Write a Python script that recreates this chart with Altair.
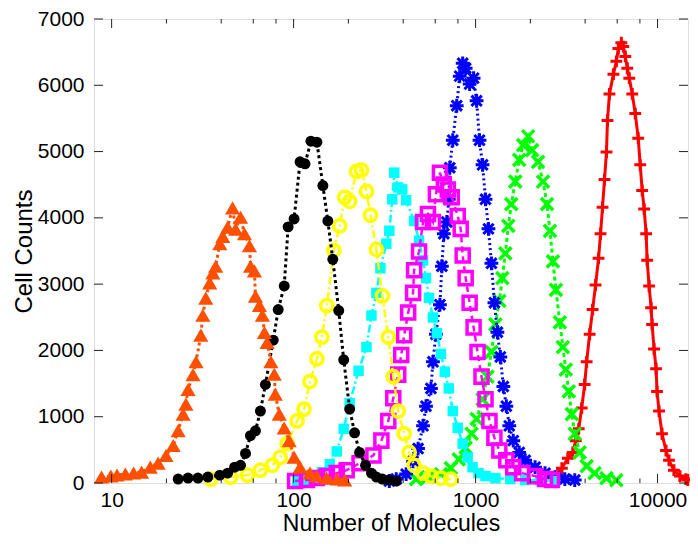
import altair as alt
import pandas as pd

# ---------------- data ----------------
orange_x = [8.8, 9.9, 10.7, 11.9, 13.2, 14.6, 16.3, 18.0, 19.9, 21.8, 23.2, 24.7, 25.6, 26.3, 28.0,
            29.1, 30.9, 31.7, 32.9, 34.6, 36.0, 37.3, 39.3, 40.8, 43.4, 46.2, 48.0, 51.1, 53.7, 57.2,
            58.0, 60.9, 61.7, 64.9, 67.4, 69.1, 71.5, 75.0, 78.3, 79.3, 83.4, 88.8, 94.5, 100.6, 108.5,
            123, 134, 152, 173, 191]
orange_y = [90, 105, 120, 135, 150, 165, 240, 300, 415, 565, 790, 1040, 1190, 1410, 1635,
            1830, 2230, 2530, 2790, 3020, 3170, 3270, 3610, 3720, 3860, 4150, 3830, 4010, 3760, 3580,
            3270, 3200, 2820, 2680, 2530, 2270, 2120, 1830, 1640, 1340, 1040, 830, 640, 390, 240,
            150, 105, 75, 60, 45]

black_x = [23.2, 26.3, 29.8, 33.8, 39.3, 43.4, 47.4, 51.1, 54.4, 57.9, 61.7, 65.7, 70.0, 77.3, 82.3,
           88.8, 93.3, 100.6, 108.5, 115.5, 124.5, 134.3, 144.8, 154.2, 164.2, 177.0, 188.5, 203.3,
           216.3, 230.4, 248.4, 267.8, 285.1, 307.4, 335.7, 366.4]
black_y = [59, 74, 74, 89, 119, 149, 238, 267, 446, 713, 788, 1085, 1486, 2155, 2616,
           2972, 3864, 3983, 4845, 4815, 5157, 5142, 4488, 3953, 3374, 2601, 1858, 1115,
           758, 461, 267, 149, 89, 59, 45, 30]

yellow_x = [35.1, 45.1, 55.8, 65.7, 76.4, 84.4, 92.2, 104.5, 114.1, 123.0, 134.3, 143.0, 152.3, 166.3,
            179.2, 190.9, 203.3, 221.8, 236.2, 251.5, 264.5, 285.1, 307.4, 331.4, 353.0, 375.8, 405.3,
            431.4, 459.3, 514.2, 568.5, 644.7, 730.9]
yellow_y = [59, 89, 119, 193, 267, 386, 594, 936, 1115, 1531, 1873, 2200, 2675, 3507,
            3879, 4310, 4250, 4700, 4720, 4399, 4042, 3522, 2824, 2200, 1605, 1085, 743,
            461, 267, 149, 104, 74, 59]

cyan_x = [104.5, 118.4, 131.0, 143.0, 158.1, 172.6, 188.5, 203.3, 227.5, 251.5, 267.8, 285.1, 299.9,
          323.2, 335.7, 348.5, 357.4, 375.8, 395.2, 415.5, 459.3, 489.0, 514.2, 534.0, 554.4, 583.0,
          613.0, 644.7, 677.8, 712.6, 749.3, 797.8, 849.5, 904.4, 962.9, 1038, 1134, 1285, 1551,
          1873, 2261, 2729]
cyan_y = [30, 45, 89, 163, 282, 476, 817, 1204, 1694, 2051, 2527, 2868, 3240,
          3611, 3805, 4280, 4682, 4459, 4429, 4265, 3953, 3656, 3359, 3091, 2794, 2497,
          2259, 1947, 1679, 1427, 1085, 832, 594, 386, 238, 149, 104, 74, 59,
          45, 45, 30]

magenta_x = [101.9, 118.4, 134.3, 152.3, 172.6, 195.7, 230.4, 274.6, 303.6, 331.4, 353.0, 375.8,
             390.3, 405.3, 426.1, 453.6, 459.3, 489.0, 514.2, 547.6, 583.0, 605.3, 636.8, 669.3,
             703.7, 739.9, 797.8, 828.3, 849.5, 882.0, 927.5, 975.2, 1025, 1078, 1134, 1192, 1269,
             1351, 1476, 1611, 1804, 2123, 2407, 2628]
magenta_y = [30, 45, 74, 104, 149, 193, 297, 416, 639, 936, 1278, 1635,
             1932, 2229, 2571, 2868, 3210, 3493, 3938, 4057, 3938, 4355, 4682, 4503,
             4429, 4310, 4028, 3834, 3433, 3091, 2720, 2348, 1977, 1605, 1263, 936, 684,
             490, 342, 238, 149, 104, 59, 45]

blue_x = [335.7, 366.4, 415.5, 453.6, 483.0, 514.2, 534.0, 568.5, 583.0, 605.3, 636.8, 652.9, 669.3,
          695.0, 712.6, 721.6, 749.3, 787.9, 818.0, 849.5, 882.0, 927.5, 975.2, 1013, 1051, 1092,
          1134, 1177, 1222, 1269, 1318, 1368, 1421, 1476, 1532, 1611, 1737, 1873, 2123, 2407,
          2729, 3094, 3508]
blue_y = [30, 59, 134, 327, 520, 862, 1159, 1427, 1828, 2244, 2690, 3270, 3760,
          3938, 4280, 4756, 5172, 5692, 6138, 6331, 6257, 6019, 6108, 5766, 5172, 4800,
          4280, 3834, 3314, 2720, 2274, 1902, 1456, 1159, 862, 639, 461, 342, 238, 149,
          89, 59, 45]

green_x = [471.0, 547.6, 644.7, 730.9, 808.0, 882.0, 951.1, 1013, 1092, 1162, 1222, 1285, 1351,
           1403, 1457, 1513, 1571, 1652, 1737, 1826, 1945, 2045, 2204, 2348, 2469, 2563, 2661,
           2763, 2905, 3017, 3133, 3253, 3378, 3508, 3735, 4077, 4508, 5241, 5940]
green_y = [59, 89, 134, 223, 357, 535, 743, 966, 1263, 1605, 1977, 2393, 2749,
           3091, 3463, 3879, 4206, 4548, 4875, 5098, 5231, 5023, 4845, 4548, 4206, 3805, 3344,
           2913, 2423, 2051, 1709, 1382, 1040, 743, 461, 253, 149, 74, 45]

red_x = [2661, 2834, 2980, 3212, 3421, 3552, 3688, 3829, 3977, 4077, 4234, 4397, 4565, 4740, 4861,
         4985, 5111, 5241, 5307, 5442, 5721, 5940, 6090, 6324, 6486, 6651, 6820, 6992, 7261, 7541,
         7830, 8029, 8233, 8442, 8656, 8765, 8988, 9216, 9333, 9570, 9813, 9937, 10190, 10580,
         11130, 11560, 12300, 13270, 14300, 14660]
red_y = [74, 134, 223, 372, 461, 639, 817, 1130, 1486, 1828, 2244, 2616, 2987, 3389, 3760,
         4161, 4577, 4994, 5469, 5870, 6168, 6361, 6554, 6643, 6584, 6435, 6257, 6108, 5870, 5573,
         5202, 4800, 4414, 4132, 3760, 3359, 2972, 2645, 2393, 2021, 1724, 1382, 1085, 743,
         490, 342, 193, 104, 59, 45]

x_labels = [10, 100, 1000, 10000]
x_minor = [20, 40, 60, 80, 200, 400, 600, 800, 2000, 4000, 6000, 8000]
y_labels = [0, 1000, 2000, 3000, 4000, 5000, 6000, 7000]

# ---------------- styles ----------------
PLUS = "M-1,0L1,0M0,-1L0,1"
XSH = "M-1,-1L1,1M-1,1L1,-1"
STAR = "M-1,0L1,0M0,-1L0,1M-0.75,-0.75L0.75,0.75M-0.75,0.75L0.75,-0.75"

styles = [
    # (x, y, color, shape, filled, size, marker stroke, line width, dash)
    (red_x, red_y, "#ff0000", PLUS, False, 140, 3, 3, None),
    (green_x, green_y, "#00ff00", XSH, False, 150, 3.5, 3, [4, 3]),
    (blue_x, blue_y, "#0000ff", STAR, False, 190, 3, 3, [2, 3]),
    (cyan_x, cyan_y, "#00ffff", "square", True, 110, 0, 2.5, [8, 3, 2, 3]),
    (magenta_x, magenta_y, "#ff00ff", "square", False, 170, 3.5, 2.5, [6, 4]),
    (yellow_x, yellow_y, "#ffff00", "circle", False, 150, 3.5, 2.5, [8, 3, 2, 3]),
    (black_x, black_y, "#000000", "circle", True, 120, 0, 3, [3, 3]),
    (orange_x, orange_y, "#ff4f00", "triangle-up", True, 230, 0, 3, [3, 3]),
]

# the whole page must fit 698x544 (8px body margin) or it gets rescaled
W, H = 594, 464
FONT = "Liberation Sans"

xscale = alt.Scale(type="log", domain=[8, 14700], nice=False)
yscale = alt.Scale(domain=[0, 7000], nice=False, zero=False)

xaxis = alt.Axis(values=x_labels, format="d", labelFont=FONT, labelFontSize=21, labelColor="black",
                 labelPadding=6, labelFlush=False, labelOverlap=False,
                 title="Number of Molecules", titleFont=FONT, titleFontSize=23,
                 titleFontWeight="normal", titleColor="black", titlePadding=2,
                 ticks=False, domain=False, grid=False)
yaxis = alt.Axis(values=y_labels, format="d", labelFont=FONT, labelFontSize=21, labelColor="black",
                 labelPadding=10, labelFlush=False, labelOverlap=False,
                 title="Cell Counts", titleFont=FONT, titleFontSize=24,
                 titleFontWeight="normal", titleColor="black", titlePadding=1,
                 ticks=False, domain=False, grid=False)

X = alt.X("x:Q", scale=xscale, axis=xaxis)
Y = alt.Y("y:Q", scale=yscale, axis=yaxis)

layers = []
for xs, ys, color, shape, filled, size, msw, lw, dash in styles:
    df = pd.DataFrame({"x": xs, "y": ys})
    base = alt.Chart(df)
    line_kw = dict(color=color, strokeWidth=lw, clip=False)
    if dash:
        line_kw["strokeDash"] = dash
    layers.append(base.mark_line(**line_kw).encode(x=X, y=Y))
    pt_kw = dict(shape=shape, filled=filled, size=size, opacity=1)
    if filled:
        pt_kw.update(fill=color, strokeWidth=0)
    else:
        pt_kw.update(stroke=color, strokeWidth=msw, fill="transparent")
    layers.append(base.mark_point(**pt_kw).encode(x=X, y=Y))

# inward tick marks on all four sides
TICK = "#222222"
xmaj = alt.Chart(pd.DataFrame({"x": x_labels}))
xmin = alt.Chart(pd.DataFrame({"x": x_minor}))
ymaj = alt.Chart(pd.DataFrame({"y": y_labels}))
layers += [
    xmaj.mark_rule(color=TICK, strokeWidth=1).encode(x=X, y=alt.value(H), y2=alt.value(H - 9)),
    xmaj.mark_rule(color=TICK, strokeWidth=1).encode(x=X, y=alt.value(0), y2=alt.value(9)),
    xmin.mark_rule(color=TICK, strokeWidth=1).encode(x=X, y=alt.value(H), y2=alt.value(H - 4.5)),
    xmin.mark_rule(color=TICK, strokeWidth=1).encode(x=X, y=alt.value(0), y2=alt.value(4.5)),
    ymaj.mark_rule(color=TICK, strokeWidth=1).encode(y=Y, x=alt.value(0), x2=alt.value(9)),
    ymaj.mark_rule(color=TICK, strokeWidth=1).encode(y=Y, x=alt.value(W), x2=alt.value(W - 9)),
]

chart = alt.layer(*layers).properties(
    width=W, height=H,
    autosize=alt.AutoSizeParams(type="none"),
    padding={"left": 86, "top": 11, "right": 2, "bottom": 53},
).configure_view(stroke="#222222", strokeWidth=1.2).configure(background="white")

chart.save("out.html", embed_options={"renderer": "svg", "actions": False})
